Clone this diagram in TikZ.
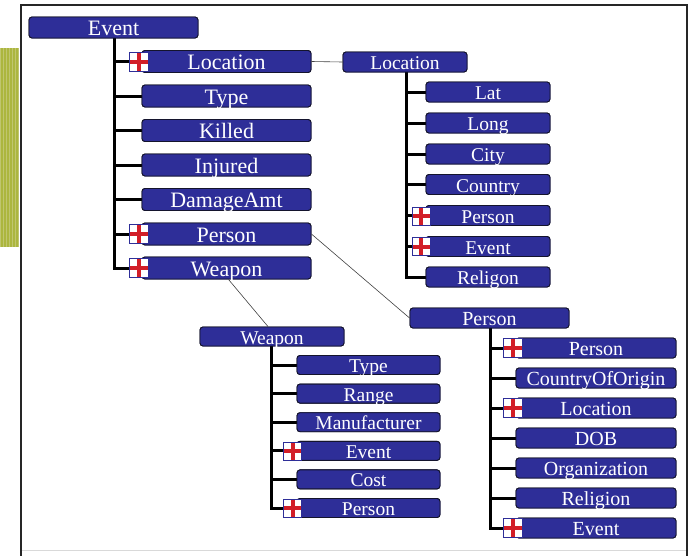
\documentclass[tikz,border=0pt]{standalone}
\usepackage{fontspec}
\setmainfont{Liberation Serif}
\definecolor{boxblue}{RGB}{46,46,152}
\definecolor{boxedge}{RGB}{20,20,45}
\definecolor{crossred}{RGB}{210,30,40}
\definecolor{stripgreen}{RGB}{172,182,62}
\definecolor{stripgrid}{RGB}{192,198,110}
\begin{document}
\begin{tikzpicture}[x=1pt,y=-1pt,
  box/.style={draw=boxedge, fill=boxblue, line width=0.9pt, rounded corners=3pt,
    text=white, inner sep=0pt, align=center, text depth=0pt},
  bigbox/.style={box, minimum width=169pt, minimum height=22pt,
    font=\fontsize{22}{22}\selectfont, text height=16pt},
  locbox/.style={box, minimum width=124pt, minimum height=20pt,
    font=\fontsize{19.5}{20}\selectfont, text height=15pt},
  perbox/.style={box, minimum width=160pt, minimum height=20pt,
    font=\fontsize{20}{20}\selectfont, text height=15pt},
  wepbox/.style={box, minimum width=143pt, minimum height=19pt,
    font=\fontsize{19.5}{20}\selectfont, text height=15pt},
  plusicon/.style={draw=boxblue, fill=white, line width=0.8pt, minimum size=18pt, inner sep=0pt,
    path picture={
      \fill[crossred] ([xshift=-2pt]path picture bounding box.north) rectangle ([xshift=2pt]path picture bounding box.south);
      \fill[crossred] ([yshift=-2pt]path picture bounding box.west) rectangle ([yshift=2pt]path picture bounding box.east);}},
  trunk/.style={line width=3pt, black},
  link/.style={line width=0.6pt, black!75}]

\useasboundingbox (0,0) rectangle (693,555);

% side strip and frame
\fill[stripgreen] (0,48) rectangle (19,247);
\draw[stripgrid, line width=0.5pt, step=3] (0,48) grid (19,247);
\draw[black!15, line width=1pt] (21,550) -- (686,550);
\draw[black!85, line width=2pt] (20.5,556) -- (20.5,5) -- (686.5,5) -- (686.5,556);

% Event tree
\node[bigbox, minimum height=21pt] (ev) at (113.5,27.5) {Event};
\node[bigbox] (evLoc)     at (226.5,61.5)  {Location};
\node[bigbox] (evType)    at (226.5,96)    {Type};
\node[bigbox] (evKilled)  at (226.5,130.5) {Killed};
\node[bigbox] (evInjured) at (226.5,165)   {Injured};
\node[bigbox] (evDamage)  at (226.5,199.5) {DamageAmt};
\node[bigbox] (evPerson)  at (226.5,234)   {Person};
\node[bigbox] (evWeapon)  at (226.5,268)   {Weapon};

% Location tree
\node[locbox] (lo)        at (405,62)    {Location};
\node[locbox] (loLat)     at (488,92)    {Lat};
\node[locbox] (loLong)    at (488,123)   {Long};
\node[locbox] (loCity)    at (488,154)   {City};
\node[locbox] (loCountry) at (488,184.5) {Country};
\node[locbox] (loPerson)  at (488,215.5) {Person};
\node[locbox] (loEvent)   at (488,246.5) {Event};
\node[locbox] (loReligon) at (488,277)   {Religon};

% Person tree
\node[perbox, minimum width=159pt] (pe) at (489.5,318) {Person};
\node[perbox] (pePerson)  at (596,348) {Person};
\node[perbox] (peCountry) at (596,378) {CountryOfOrigin};
\node[perbox] (peLoc)     at (596,408) {Location};
\node[perbox] (peDOB)     at (596,438) {DOB};
\node[perbox] (peOrg)     at (596,468) {Organization};
\node[perbox] (peRel)     at (596,498) {Religion};
\node[perbox] (peEvent)   at (596,528) {Event};

% Weapon tree
\node[wepbox, minimum width=144pt] (we) at (272,336.5) {Weapon};
\node[wepbox] (weType)   at (368.5,365)   {Type};
\node[wepbox] (weRange)  at (368.5,393.6) {Range};
\node[wepbox] (weManu)   at (368.5,422.2) {Manufacturer};
\node[wepbox] (weEvent)  at (368.5,450.8) {Event};
\node[wepbox] (weCost)   at (368.5,479.4) {Cost};
\node[wepbox] (wePerson) at (368.5,508)   {Person};

% tree branches
\foreach \c in {evLoc,evType,evKilled,evInjured,evDamage,evPerson,evWeapon}
  \draw[trunk] ([xshift=0.5pt]ev.south) |- (\c.west);
\foreach \c in {loLat,loLong,loCity,loCountry,loPerson,loEvent,loReligon}
  \draw[trunk] ([xshift=1pt]lo.south) |- (\c.west);
\foreach \c in {pePerson,peCountry,peLoc,peDOB,peOrg,peRel,peEvent}
  \draw[trunk] ([xshift=0.5pt]pe.south) |- (\c.west);
\foreach \c in {weType,weRange,weManu,weEvent,weCost,wePerson}
  \draw[trunk] ([xshift=-1pt]we.south) |- (\c.west);

% redraw boxes over the branch ends
\foreach \c/\t in {evLoc/Location,evType/Type,evKilled/Killed,evInjured/Injured,evDamage/DamageAmt,evPerson/Person,evWeapon/Weapon}
  \node[bigbox] at (\c) {\t};
\foreach \c/\t in {loLat/Lat,loLong/Long,loCity/City,loCountry/Country,loPerson/Person,loEvent/Event,loReligon/Religon}
  \node[locbox] at (\c) {\t};
\foreach \c/\t in {pePerson/Person,peCountry/CountryOfOrigin,peLoc/Location,peDOB/DOB,peOrg/Organization,peRel/Religion,peEvent/Event}
  \node[perbox] at (\c) {\t};
\foreach \c/\t in {weType/Type,weRange/Range,weManu/Manufacturer,weEvent/Event,weCost/Cost,wePerson/Person}
  \node[wepbox] at (\c) {\t};
\node[bigbox, minimum height=21pt] at (ev) {Event};
\node[locbox] at (lo) {Location};
\node[perbox, minimum width=159pt] at (pe) {Person};
\node[wepbox, minimum width=144pt] at (we) {Weapon};

% expand icons
\node[plusicon, minimum size=19pt] (iEvLoc)    at (138.5,62)  {};
\node[plusicon, minimum size=19pt] (iEvPerson) at (138.5,234) {};
\node[plusicon, minimum size=19pt] (iEvWeapon) at (138.5,268) {};
\node[plusicon] (iLoPerson) at (421,216)   {};
\node[plusicon] (iLoEvent)  at (421,246.5) {};
\node[plusicon, minimum size=19pt] (iPePerson) at (513,348) {};
\node[plusicon, minimum size=19pt] (iPeLoc)    at (513,408) {};
\node[plusicon, minimum size=19pt] (iPeEvent)  at (513,528) {};
\node[plusicon] (iWeEvent)  at (292.5,451) {};
\node[plusicon] (iWePerson) at (292.5,508) {};

% links between trees
\draw[link] (evLoc.east) -- (lo.west);
\draw[link] (evPerson.east) -- (pe.west);
\draw[link] ([xshift=2pt]evWeapon.south) -- ([xshift=-4pt]we.north);
\end{tikzpicture}
\end{document}
